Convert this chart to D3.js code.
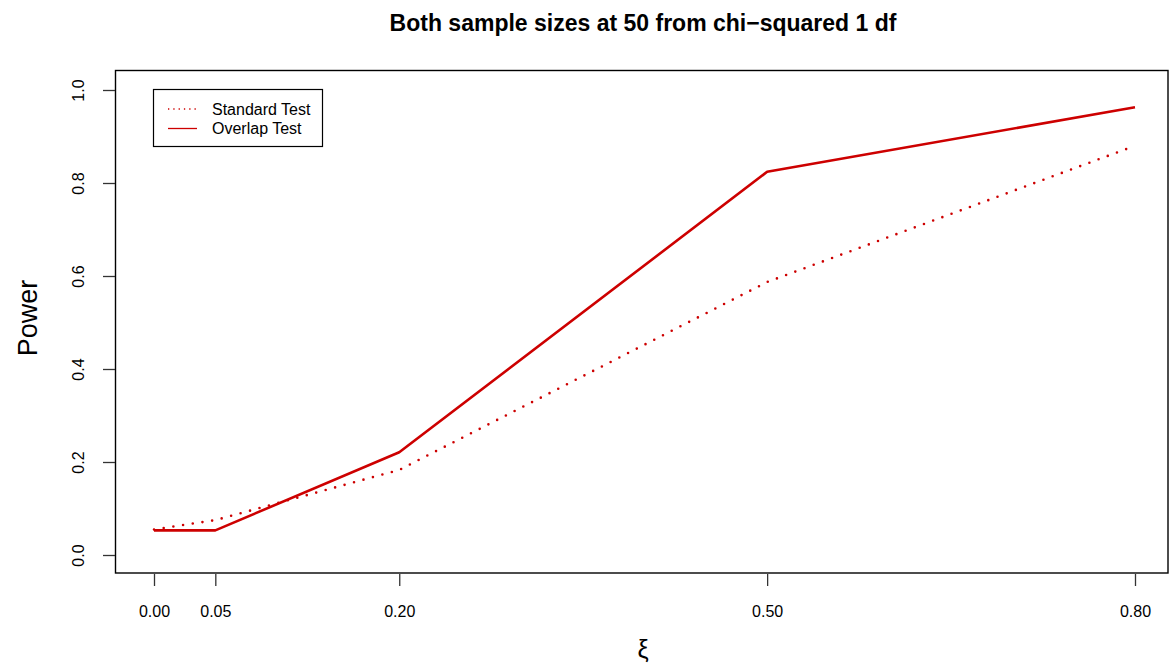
<!DOCTYPE html>
<html>
<head>
<meta charset="utf-8">
<script src="https://cdn.jsdelivr.net/npm/d3@7"></script>
<style>
  body { margin: 0; background: #fff; }
  text { font-family: "Liberation Sans", Arial, sans-serif; }
</style>
</head>
<body>
<div class="container"></div>
<script>
// values
const xi = [0.00, 0.05, 0.20, 0.50, 0.80];
const standardPower = [0.055, 0.075, 0.183, 0.587, 0.880];
const overlapPower = [0.053, 0.053, 0.221, 0.824, 0.963];
const xTicks = [0.00, 0.05, 0.20, 0.50, 0.80];
const yTicks = [0.0, 0.2, 0.4, 0.6, 0.8, 1.0];
const seriesNames = ["Standard Test", "Overlap Test"];

const width = 1169, height = 671;
const red = "#cd0000";

const svg = d3.select(".container").append("svg")
  .attr("width", width).attr("height", height);

const x = d3.scaleLinear().domain([0, 0.8]).range([154, 1135]);
const y = d3.scaleLinear().domain([0, 1]).range([555, 90]);

// plot box
svg.append("rect")
  .attr("x", 115.5).attr("y", 70.5)
  .attr("width", 1168 - 115.5).attr("height", 573 - 70.5)
  .attr("fill", "none").attr("stroke", "#000").attr("stroke-width", 1.4);

// x axis
const gx = svg.append("g")
  .attr("transform", "translate(0,574)")
  .call(d3.axisBottom(x).tickValues(xTicks).tickFormat(d3.format(".2f"))
    .tickSize(12).tickPadding(20));
gx.select(".domain").remove();
gx.selectAll(".tick line").attr("stroke", "#333").attr("stroke-width", 1.3);
gx.selectAll(".tick text").attr("font-size", 16).attr("fill", "#000")
  .attr("font-family", "Liberation Sans, Arial, sans-serif");

// y axis
const gy = svg.append("g")
  .attr("transform", "translate(115,0)")
  .call(d3.axisLeft(y).tickValues(yTicks).tickFormat(d3.format(".1f")).tickSize(12));
gy.select(".domain").remove();
gy.selectAll(".tick line").attr("stroke", "#333").attr("stroke-width", 1.3);
gy.selectAll(".tick text")
  .attr("x", 0).attr("dy", 0)
  .attr("text-anchor", "middle")
  .attr("transform", "translate(-31,0) rotate(-90)")
  .attr("font-size", 16).attr("fill", "#000")
  .attr("font-family", "Liberation Sans, Arial, sans-serif");

// lines
const line = d3.line()
  .x((d, i) => x(xi[i]))
  .y(d => y(d));

svg.append("path")
  .attr("d", line(standardPower))
  .attr("fill", "none").attr("stroke", red)
  .attr("stroke-width", 2.6)
  .attr("stroke-linecap", "round")
  .attr("stroke-dasharray", "0 9.8");

svg.append("path")
  .attr("d", line(overlapPower))
  .attr("fill", "none").attr("stroke", red)
  .attr("stroke-width", 2.6)
  .attr("stroke-linejoin", "round");

// legend
const lg = svg.append("g");
lg.append("rect")
  .attr("x", 153.5).attr("y", 89.5).attr("width", 169).attr("height", 57)
  .attr("fill", "#fff").attr("stroke", "#000").attr("stroke-width", 1.2);
seriesNames.forEach((name, i) => {
  const yy = 109 + i * 19.5;
  lg.append("line")
    .attr("x1", 168).attr("x2", 197).attr("y1", yy).attr("y2", yy)
    .attr("stroke", red).attr("stroke-width", 1.3)
    .attr("stroke-dasharray", i === 0 ? "1.3 4" : null);
  lg.append("text")
    .attr("x", 212).attr("y", yy + 5.8)
    .attr("font-size", 16).text(name);
});

// titles
svg.append("text")
  .attr("x", 643).attr("y", 31)
  .attr("text-anchor", "middle")
  .attr("font-size", 23).attr("font-weight", "bold")
  .text("Both sample sizes at 50 from chi\u2212squared 1 df");

svg.append("text")
  .attr("x", 643).attr("y", 658)
  .attr("text-anchor", "middle")
  .attr("font-size", 25)
  .text("\u03be");

svg.append("text")
  .attr("transform", "translate(37,318) rotate(-90)")
  .attr("text-anchor", "middle")
  .attr("font-size", 27)
  .text("Power");
</script>
</body>
</html>
